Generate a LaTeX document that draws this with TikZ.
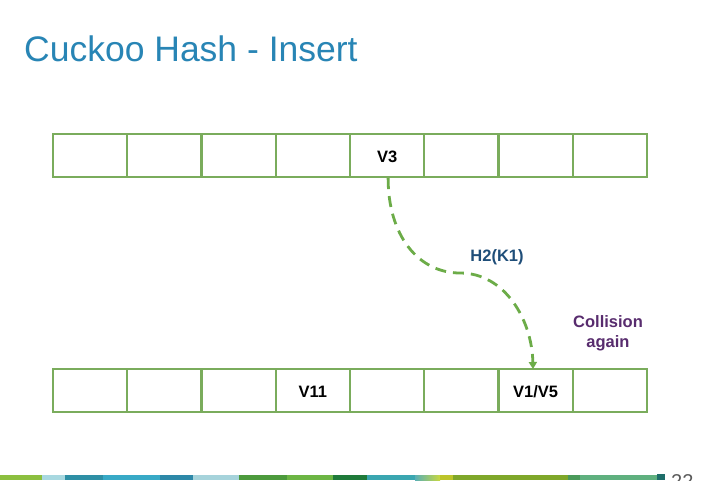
\documentclass[tikz,border=0pt]{standalone}
\usepackage{fontspec}
\setmainfont{Liberation Sans}
\usetikzlibrary{arrows.meta}
\definecolor{titleblue}{RGB}{40,133,181}
\definecolor{boxgreen}{RGB}{122,172,92}
\definecolor{arrgreen}{RGB}{108,172,72}
\definecolor{lblblue}{RGB}{31,78,121}
\definecolor{lblpurple}{RGB}{88,44,110}
\tikzset{
  cell/.style={draw=boxgreen, line width=2.2pt, minimum width=74.25pt, minimum height=43pt, inner sep=0pt, font=\fontsize{16.5}{20}\selectfont\bfseries, text=black},
  hasharrow/.style={draw=arrgreen, line width=2.8pt, dash pattern=on 11pt off 7pt, -{Triangle[length=7pt,width=8pt]}},
  celltext/.style={font=\fontsize{16.5}{20}\selectfont\bfseries}
}
\begin{document}
\begin{tikzpicture}[x=1pt,y=-1pt]
\useasboundingbox (0,0) rectangle (720,480);
\fill[white] (0,0) rectangle (720,480);
% title
\node[anchor=base west, inner sep=0pt, text=titleblue, font=\fontsize{35.5}{40}\selectfont] (title) at (24,61) {Cuckoo Hash - Insert};
% top table
\foreach \i in {0,...,7} {
  \node[cell] (t\i) at ({53+74.25*\i+37.125},155.5) {};
}
\node[celltext] (v3) at ([yshift=-1pt]t4.center) {V3};
% bottom table
\foreach \i in {0,...,7} {
  \node[cell] (b\i) at ({53+74.25*\i+37.125},390.5) {};
}
\node[celltext] (v11) at ([yshift=-1pt]b3.center) {V11};
\node[celltext] (v15) at ([yshift=-1pt]b6.center) {V1/V5};
% arrow
\coordinate (mid) at (460,273);
\coordinate (tip) at (533,369);
\draw[hasharrow] ([xshift=1pt]t4.south) .. controls (388,235) and (418,273) .. (mid)
  .. controls (505,273) and (532,320) .. (tip);
% labels
\node[text=lblblue, celltext] (h2) at (497,257) {H2(K1)};
\node[text=lblpurple, celltext, align=center] (coll) at (608,333) {Collision\\again};
% footer bar
\fill[color={rgb,255:red,140;green,191;blue,63}] (0,475) rectangle (42,480);
\fill[color={rgb,255:red,168;green,216;blue,224}] (42,475) rectangle (65,480);
\fill[color={rgb,255:red,46;green,143;blue,165}] (65,475) rectangle (103,480);
\fill[color={rgb,255:red,56;green,169;blue,198}] (103,475) rectangle (160,480);
\fill[color={rgb,255:red,45;green,136;blue,168}] (160,475) rectangle (193,480);
\fill[color={rgb,255:red,166;green,211;blue,219}] (193,475) rectangle (239,480);
\fill[color={rgb,255:red,76;green,154;blue,60}] (239,475) rectangle (287,480);
\fill[color={rgb,255:red,108;green,181;blue,68}] (287,475) rectangle (333,480);
\fill[color={rgb,255:red,31;green,122;blue,58}] (333,475) rectangle (367,480);
\fill[color={rgb,255:red,58;green,166;blue,176}] (367,475) rectangle (415,480);
\shade[left color={rgb,255:red,90;green,175;blue,180}, right color={rgb,255:red,200;green,216;blue,64}] (415,475) rectangle (440,480);
\fill[color={rgb,255:red,188;green,196;blue,42}] (440,475) rectangle (453,480);
\fill[color={rgb,255:red,127;green,167;blue,42}] (453,475) rectangle (568,480);
\fill[color={rgb,255:red,74;green,154;blue,90}] (568,475) rectangle (580,480);
\fill[color={rgb,255:red,95;green,176;blue,127}] (580,475) rectangle (657,480);
\fill[color={rgb,255:red,30;green,110;blue,106}] (657,474) rectangle (665,480);
\node[anchor=base west, inner sep=0pt, text={rgb,255:red,90;green,90;blue,90}, font=\fontsize{20}{24}\selectfont] (pg) at (671,488) {22};
\end{tikzpicture}
\end{document}
